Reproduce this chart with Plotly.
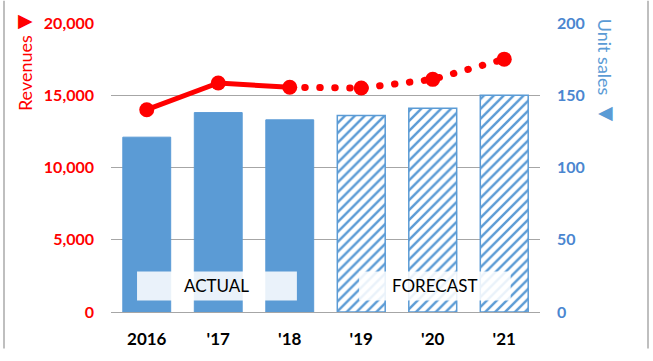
import plotly.graph_objects as go

years = ["2016", "'17", "'18", "'19", "'20", "'21"]
unit_sales = [121, 138, 133, 136, 141, 150]
revenues = [14000, 15850, 15550, 15500, 16100, 17500]
n_actual = 3
left_ticks = [0, 5000, 10000, 15000, 20000]
right_ticks = [0, 50, 100, 150, 200]

RED = "#FF0000"
BLUE = "#5B9BD5"
BLUE_TXT = "#4A86D0"
FONT = "Lato"

L, R, T, B = 111, 113, 23, 38
W, H = 653, 361
PW, PH = W - L - R, H - T - B

def px(x):
    return (x - L) / PW

def py(y):
    return (H - B - y) / PH

fig = go.Figure()

# actual bars (solid)
fig.add_trace(go.Bar(
    x=years[:n_actual], y=unit_sales[:n_actual], yaxis="y2",
    marker=dict(color=BLUE, line=dict(color=BLUE, width=1)),
    showlegend=False, hoverinfo="skip",
))
# forecast bars (hatched)
fig.add_trace(go.Bar(
    x=years[n_actual:], y=unit_sales[n_actual:], yaxis="y2",
    marker=dict(color="white", line=dict(color=BLUE, width=1.5),
                pattern=dict(shape="/", fgcolor=BLUE, bgcolor="white",
                             fgopacity=1, fillmode="replace", size=7, solidity=0.35)),
    showlegend=False, hoverinfo="skip",
))

fig.add_trace(go.Scatter(
    x=years[:n_actual], y=revenues[:n_actual], mode="lines",
    line=dict(color=RED, width=5), showlegend=False, hoverinfo="skip",
))
fig.add_trace(go.Scatter(
    x=years[n_actual - 1:], y=revenues[n_actual - 1:], mode="lines",
    line=dict(color=RED, width=7, dash="0.5px,14.5px"),
    showlegend=False, hoverinfo="skip",
))
fig.add_trace(go.Scatter(
    x=years, y=revenues, mode="markers",
    marker=dict(color=RED, size=15), showlegend=False, hoverinfo="skip",
))

shapes = [
    dict(type="rect", xref="x", yref="y2", x0=-0.136, x1=2.10, y0=8, y1=28,
         fillcolor="rgba(255,255,255,0.87)", line=dict(width=0), layer="above"),
    dict(type="rect", xref="x", yref="y2", x0=2.97, x1=5.09, y0=8, y1=28,
         fillcolor="rgba(255,255,255,0.87)", line=dict(width=0), layer="above"),
    dict(type="line", xref="paper", yref="paper", x0=px(4), x1=px(4), y0=py(0), y1=py(H),
         line=dict(color="#BFBFBF", width=2)),
    dict(type="line", xref="paper", yref="paper", x0=px(648), x1=px(648), y0=py(0), y1=py(H),
         line=dict(color="#BFBFBF", width=2)),
]

def ann(text, x, y, size, color, family=FONT, angle=0, xref="paper", yref="paper"):
    return dict(text=text, xref=xref, yref=yref, x=x, y=y, textangle=angle,
                xanchor="center", yanchor="middle", showarrow=False,
                font=dict(family=family, size=size, color=color))

annotations = [
    ann("ACTUAL", 0.98, 18, 17, "black", xref="x", yref="y2"),
    ann("FORECAST", 4.03, 18, 17, "black", xref="x", yref="y2"),
    ann("Revenues", px(25), py(75), 18, RED, angle=-90),
    ann("▶", px(25), py(20), 19, RED, family="DejaVu Sans"),
    ann("Unit sales", px(605), py(58), 18, BLUE, angle=90),
    ann("◀", px(605), py(115), 19, BLUE, family="DejaVu Sans"),
]

fig.update_layout(
    width=W, height=H,
    margin=dict(l=L, r=R, t=T, b=B, pad=0),
    paper_bgcolor="white", plot_bgcolor="white",
    barmode="overlay", bargap=0.33,
    xaxis=dict(showgrid=False, showline=True, linecolor="#A6A6A6", linewidth=1,
               categoryorder="array", categoryarray=years,
               tickfont=dict(family=FONT, size=17, color="black", weight="bold"),
               ticks="", ticklabelstandoff=12, fixedrange=True),
    yaxis=dict(range=[0, 20000], tickvals=left_ticks, tickformat=",",
               showgrid=True, gridcolor="#A6A6A6", gridwidth=1, zeroline=False,
               tickfont=dict(family=FONT, size=16, color=RED, weight="bold"),
               ticklabelstandoff=16, fixedrange=True),
    yaxis2=dict(range=[0, 200], tickvals=right_ticks, overlaying="y", side="right",
                showgrid=False, zeroline=False,
                tickfont=dict(family=FONT, size=16, color=BLUE_TXT, weight="bold"),
                ticklabelstandoff=16, fixedrange=True),
    shapes=shapes, annotations=annotations,
)

post = """
document.body.style.margin = '0';
document.body.style.padding = '0';
document.body.style.overflow = 'hidden';
var gd = document.getElementById('{plot_id}');
function roundCaps(){
  var paths = gd.querySelectorAll('.scatterlayer .trace path.js-line');
  paths.forEach(function(p){ p.style.strokeLinecap = 'round'; });
}
roundCaps();
if (gd.on) { gd.on('plotly_afterplot', roundCaps); }
setTimeout(roundCaps, 50);
"""

fig.write_html("out.html", config={"displayModeBar": False}, post_script=post)
